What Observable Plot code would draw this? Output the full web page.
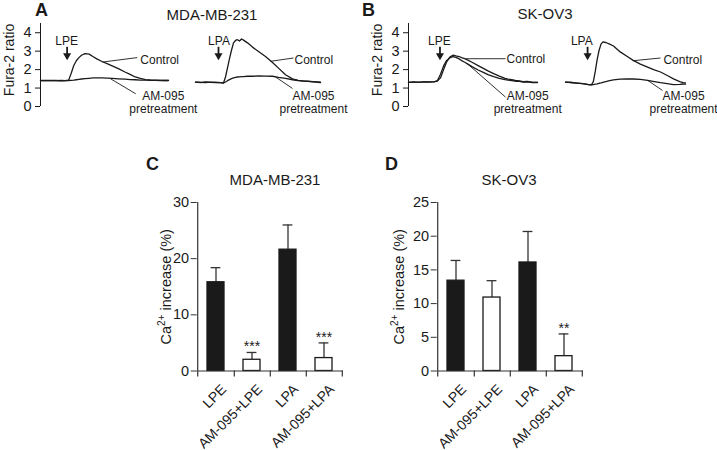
<!DOCTYPE html>
<html><head><meta charset="utf-8">
<script src="https://cdn.jsdelivr.net/npm/d3@7"></script>
<script src="https://cdn.jsdelivr.net/npm/@observablehq/plot@0.6"></script>
<style>
body{margin:0;background:#fff;}
#fig{position:relative;width:717px;height:450px;overflow:hidden;font-family:"Liberation Sans",Arial,Helvetica,sans-serif;color:#1a1a1a;}
.lbl{position:absolute;white-space:nowrap;line-height:1;}
.letter{font-weight:bold;font-size:18px;}
.ttl{font-size:15px;transform:translateX(-50%);}
#fig svg{position:absolute;overflow:visible;}
</style></head><body><div id="fig"></div>
<script>
// ---------------- DATA ----------------
// Panel A (MDA-MB-231) Fura-2 ratio traces, time in s
const tA1    = [0,10,20,30,40,50,55,60,65,70,75,80,87,95,103,110,120,130,140,152,165,175,185,195,205,215,225,235,245,250];
const ctrlA1 = [1.40,1.42,1.40,1.41,1.39,1.41,1.43,1.80,2.22,2.48,2.65,2.78,2.87,2.84,2.70,2.58,2.44,2.32,2.20,2.05,1.87,1.74,1.60,1.52,1.46,1.44,1.43,1.42,1.41,1.42];
const amA1   = [1.41,1.40,1.42,1.40,1.41,1.40,1.41,1.42,1.43,1.45,1.47,1.49,1.51,1.53,1.55,1.55,1.55,1.54,1.52,1.50,1.48,1.46,1.45,1.43,1.43,1.42,1.42,1.41,1.42,1.41];

const tA2    = [0,10,20,30,40,50,56,60,64,68,72,76,80,84,88,92,96,104,114,126,140,154,166,180,194,205,215,225,235,245,250];
const ctrlA2 = [1.32,1.30,1.33,1.31,1.30,1.29,1.27,1.60,2.10,2.60,3.05,3.45,3.58,3.62,3.55,3.66,3.60,3.45,3.22,2.98,2.71,2.39,2.08,1.72,1.50,1.42,1.38,1.36,1.34,1.31,1.30];
const amA2   = [1.32,1.31,1.30,1.32,1.31,1.29,1.28,1.33,1.40,1.46,1.51,1.55,1.58,1.60,1.61,1.62,1.62,1.64,1.64,1.66,1.65,1.64,1.58,1.52,1.45,1.41,1.39,1.37,1.35,1.33,1.32];

// Panel B (SK-OV3)
const tB1    = [0,10,20,30,40,50,56,62,68,74,80,86,92,98,104,109,115,123,135,145,154,165,176,187,193,200,207,215,222,230,240,250];
const ctrlB1 = [1.31,1.33,1.31,1.34,1.32,1.35,1.38,1.55,2.00,2.42,2.68,2.78,2.74,2.71,2.64,2.59,2.51,2.40,2.22,2.07,1.93,1.78,1.65,1.53,1.49,1.45,1.41,1.39,1.35,1.36,1.32,1.31];
const amB1   = [1.31,1.32,1.32,1.33,1.33,1.34,1.40,1.75,2.20,2.50,2.63,2.70,2.66,2.58,2.47,2.40,2.30,2.16,1.98,1.85,1.73,1.62,1.53,1.46,1.43,1.40,1.37,1.36,1.32,1.34,1.30,1.30];

const tB2    = [0,12,24,36,48,54,58,62,66,70,74,78,84,92,100,114,128,141,156,171,185,198,212,225,238,245,250];
const ctrlB2 = [1.32,1.30,1.27,1.24,1.19,1.18,1.35,1.90,2.55,3.05,3.38,3.50,3.47,3.38,3.28,2.96,2.72,2.50,2.30,2.14,1.99,1.87,1.68,1.50,1.35,1.30,1.28];
const amB2   = [1.32,1.30,1.27,1.24,1.19,1.18,1.19,1.21,1.23,1.26,1.28,1.31,1.35,1.40,1.44,1.48,1.50,1.49,1.47,1.42,1.35,1.29,1.24,1.19,1.20,1.22,1.21];

const furaTicks = [0,1,2,3,4];

// Panels C/D: Ca2+ increase (%) mean and SD
const categories = ["LPE","AM-095+LPE","LPA","AM-095+LPA"];
const pretreated = [false,true,false,true];
const meanC = [15.8, 2.0, 21.6, 2.3];
const errC  = [2.6, 1.3, 4.4, 2.7];
const sigC  = ["", "***", "", "***"];
const meanD = [13.4, 10.9, 16.1, 2.2];
const errD  = [3.0, 2.5, 4.6, 3.3];
const sigD  = ["", "", "", "**"];
const ticksC = [0,10,20,30];
const ticksD = [0,5,10,15,20,25];

// ---------------- LAYOUT / ANNOTATION POSITIONS ----------------
const font = '"Liberation Sans", Arial, Helvetica, sans-serif';
const ink = "#1a1a1a";
const fig = document.getElementById("fig");
const caLabel = "Ca²⁺ increase (%)";

const annA1 = {stim:{t:52,labelT:51,label:"LPE",top:3.21,head:2.76,labelV:3.53},
  leaders:[{x1:121,y1:2.41,x2:189,y2:2.65},{x1:137,y1:1.50,x2:186,y2:0.69}],
  ctrl:{t:195,v:2.5}, am:{t:240,v:0.84}};
const annA2 = {stim:{t:46,labelT:47,label:"LPA",top:3.21,head:2.76,labelV:3.55},
  leaders:[{x1:150,y1:2.45,x2:196,y2:2.63},{x1:160,y1:1.60,x2:194,y2:0.98}],
  ctrl:{t:198,v:2.5}, am:{t:236,v:0.84}};
const annB1 = {stim:{t:61,labelT:60,label:"LPE",top:3.21,head:2.76,labelV:3.53},
  leaders:[{x1:110,y1:2.59,x2:188,y2:2.59},{x1:114,y1:2.32,x2:188,y2:0.51}],
  ctrl:{t:190,v:2.59}, am:{t:231,v:0.84}};
const annB2 = {stim:{t:46,labelT:34,label:"LPA",top:3.21,head:2.76,labelV:3.55},
  leaders:[{x1:140,y1:2.48,x2:198,y2:2.63},{x1:171,y1:1.42,x2:202,y2:0.87}],
  ctrl:{t:204,v:2.5}, am:{t:246,v:0.84}};

function place(svg, left, top) {
  svg.style.left = left + "px";
  svg.style.top = top + "px";
  fig.appendChild(svg);
}

function tracePlot(t, ctrl, am, ann, o) {
  const rows = t.map((d, i) => ({t: d, ctrl: ctrl[i], am: am[i]}));
  const marks = [
    Plot.lineY(rows, {x: "t", y: "am", stroke: ink, strokeWidth: 1.3}),
    Plot.lineY(rows, {x: "t", y: "ctrl", stroke: ink, strokeWidth: 1.3}),
    Plot.ruleX([ann.stim], {x: "t", y1: "top", y2: "head", stroke: ink, strokeWidth: 1.8}),
    Plot.dot([ann.stim], {x: "t", y: "head", symbol: "triangle", rotate: 180, r: 3, fill: ink, stroke: "none"}),
    Plot.text([ann.stim], {x: "labelT", y: "labelV", text: "label", fontSize: 12, fill: ink}),
    Plot.link(ann.leaders, {x1: "x1", y1: "y1", x2: "x2", y2: "y2", stroke: ink, strokeWidth: 0.9}),
    Plot.text([ann.ctrl], {x: "t", y: "v", text: () => "Control", textAnchor: "start", fontSize: 12, fill: ink}),
    Plot.text([ann.am], {x: "t", y: "v", text: () => "AM-095\npretreatment", lineAnchor: "top", lineHeight: 1.05, fontSize: 12, fill: ink})
  ];
  if (o.axis) {
    marks.push(
      Plot.ruleX([{x: 0, y1: 0, y2: 4.5}], {x: "x", y1: "y1", y2: "y2", stroke: ink, strokeWidth: 1}),
      Plot.axisY({ticks: furaTicks, tickFormat: d3.format("d"), tickSize: 5, tickPadding: 4, fontSize: 14.5, label: null, stroke: ink}),
      Plot.text(["Fura-2 ratio"], {text: d => d, frameAnchor: "left", textAnchor: "middle", lineAnchor: "middle", rotate: -90, dx: -30.5, dy: -5, fontSize: 14, fill: ink})
    );
  }
  const svg = Plot.plot({
    width: o.width, height: 120,
    marginLeft: o.ml, marginRight: o.mr, marginTop: 23, marginBottom: 14,
    x: {domain: [0, 250], axis: null},
    y: o.axis ? {domain: [0, 4.5]} : {domain: [0, 4.5], axis: null},
    style: {background: "transparent", overflow: "visible", fontFamily: font, fontSize: "14px", color: ink},
    marks
  });
  place(svg, o.left, o.top);
}

tracePlot(tA1, ctrlA1, amA1, annA1, {left: 0, top: 0, width: 180, ml: 40, mr: 12, axis: true});
tracePlot(tA2, ctrlA2, amA2, annA2, {left: 180, top: 0, width: 180, ml: 15, mr: 40, axis: false});
tracePlot(tB1, ctrlB1, amB1, annB1, {left: 360, top: 0, width: 180, ml: 48, mr: 3, axis: true});
tracePlot(tB2, ctrlB2, amB2, annB2, {left: 540, top: 0, width: 177, ml: 25, mr: 32, axis: false});

// turn "Ca²⁺" into a real superscript in the SVG label
function superscript(svg) {
  svg.querySelectorAll("text").forEach(el => {
    if (el.textContent !== caLabel) return;
    el.textContent = "";
    const ns = "http://www.w3.org/2000/svg";
    const parts = [["Ca", null, null], ["2+", "-6", "10px"], [" increase (%)", "6", null]];
    for (const [s, dy, fs] of parts) {
      const ts = document.createElementNS(ns, "tspan");
      ts.textContent = s;
      if (dy) ts.setAttribute("dy", dy);
      if (fs) ts.setAttribute("font-size", fs);
      el.appendChild(ts);
    }
  });
}

function barPlot(mean, err, sig, yMax, yTicks, o) {
  const W = 220, H = 300, ml = 56.7, mr = 17, mt = 52, mb = 79.5;
  const step = (W - ml - mr) / categories.length;
  const rows = categories.map((c, i) => ({cat: c, mean: mean[i], hi: mean[i] + err[i], sig: sig[i], pre: pretreated[i]}));
  const svg = Plot.plot({
    width: W, height: H, marginLeft: ml, marginRight: mr, marginTop: mt, marginBottom: mb,
    x: {domain: categories, paddingInner: 0.535, paddingOuter: 0.2675},
    y: {domain: [0, yMax]},
    style: {background: "transparent", overflow: "visible", fontFamily: font, fontSize: "14px", color: ink},
    marks: [
      Plot.ruleX(rows, {x: "cat", y1: "mean", y2: "hi", stroke: "#333", strokeWidth: 1.3}),
      Plot.tickY(rows, {x: "cat", y: "hi", stroke: "#333", strokeWidth: 1.3, insetLeft: 3.6, insetRight: 3.6}),
      Plot.barY(rows, {x: "cat", y: "mean", fill: d => d.pre ? "white" : ink, stroke: ink, strokeWidth: 1.3}),
      Plot.text(rows.filter(d => d.sig), {x: "cat", y: "hi", text: "sig", lineAnchor: "bottom", dy: -1, fontSize: 14, fill: ink}),
      Plot.ruleY([0], {stroke: "#333", strokeWidth: 1.2}),
      Plot.ruleX([categories[0]], {x: d => d, dx: -step / 2, y1: () => 0, y2: () => yMax, stroke: "#333", strokeWidth: 1.2}),
      Plot.ruleX([categories[0]], {x: d => d, dx: -step / 2, y1: () => 0, y2: () => 0, insetBottom: -6, stroke: "#333", strokeWidth: 1.2}),
      Plot.ruleX(categories, {x: d => d, dx: step / 2, y1: () => 0, y2: () => 0, insetBottom: -6, stroke: "#333", strokeWidth: 1.2}),
      Plot.axisY({ticks: yTicks, tickSize: 6, tickPadding: 2, fontSize: 14.5, label: null, stroke: "#333"}),
      Plot.axisX({tickRotate: -45, tickSize: 0, tickPadding: 16, dx: 8, fontSize: 14, label: null}),
      Plot.text([caLabel], {text: d => d, frameAnchor: "left", textAnchor: "middle", lineAnchor: "middle", rotate: -90, dx: o.labelDx, fontSize: 14.5, fill: ink})
    ]
  });
  superscript(svg);
  place(svg, o.left, o.top);
}

barPlot(meanC, errC, sigC, 30, ticksC, {left: 140, top: 150, labelDx: -31});
barPlot(meanD, errD, sigD, 25, ticksD, {left: 380, top: 150, labelDx: -38});

// panel letters and titles
function label(text, cls, left, top) {
  const d = document.createElement("div");
  d.className = "lbl " + cls;
  d.textContent = text;
  d.style.left = left + "px";
  d.style.top = top + "px";
  fig.appendChild(d);
}
label("A", "letter", 35, 1);
label("B", "letter", 362, 1);
label("C", "letter", 146, 155);
label("D", "letter", 385, 155);
label("MDA-MB-231", "ttl", 212, 7);
label("SK-OV3", "ttl", 545, 6);
label("MDA-MB-231", "ttl", 275, 172);
label("SK-OV3", "ttl", 509, 172);
</script>
</body></html>
